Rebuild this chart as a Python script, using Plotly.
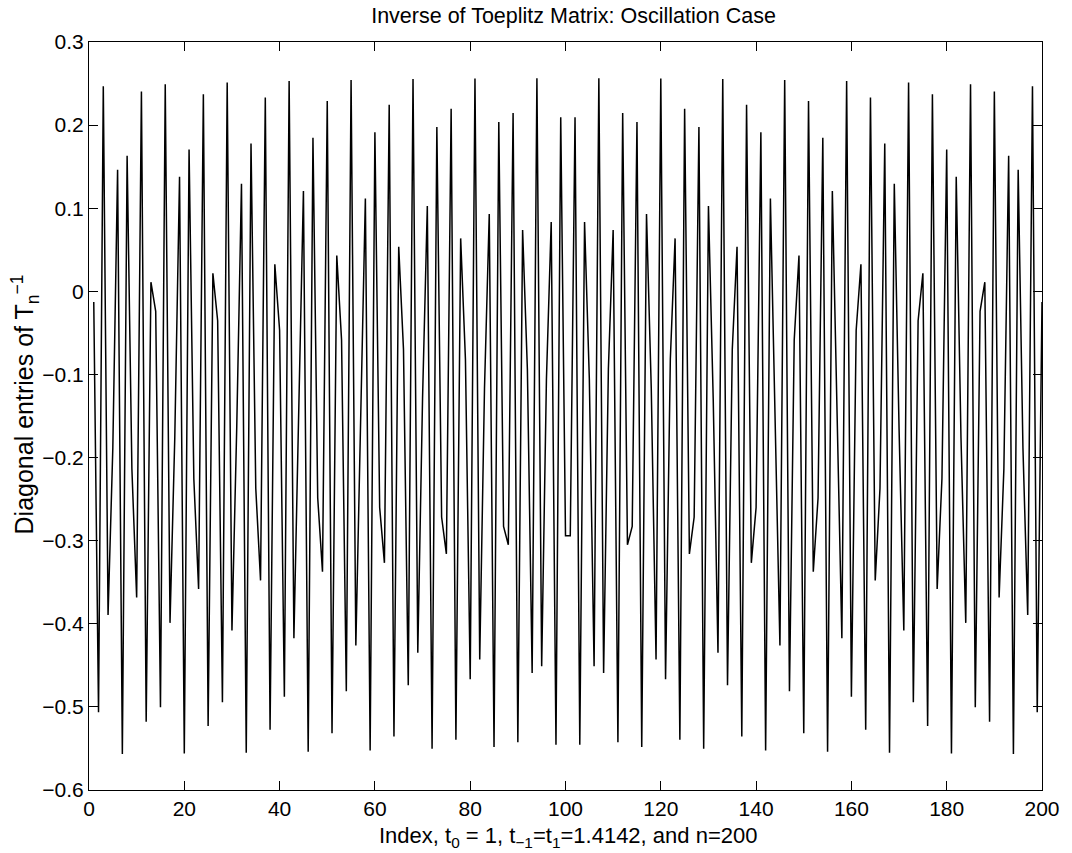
import plotly.graph_objects as go

index = list(range(1, 201))

diag_first_half = [
    -0.0128, -0.5064, 0.2468, -0.3894, -0.1883, 0.1463, -0.5567, 0.1632, -0.2136, -0.3683,
    0.2405, -0.5180, 0.0110, -0.0240, -0.5005, 0.2492, -0.3989, -0.1765, 0.1380, -0.5561,
    0.1706, -0.2254, -0.3581, 0.2370, -0.5229, 0.0218, -0.0354, -0.4943, 0.2513, -0.4082,
    -0.1646, 0.1295, -0.5552, 0.1778, -0.2370, -0.3478, 0.2332, -0.5275, 0.0325, -0.0468,
    -0.4878, 0.2530, -0.4173, -0.1527, 0.1207, -0.5540, 0.1847, -0.2486, -0.3374, 0.2291,
    -0.5318, 0.0431, -0.0584, -0.4811, 0.2544, -0.4261, -0.1408, 0.1118, -0.5524, 0.1913,
    -0.2601, -0.3267, 0.2246, -0.5357, 0.0535, -0.0700, -0.4740, 0.2555, -0.4347, -0.1289,
    0.1026, -0.5505, 0.1976, -0.2715, -0.3159, 0.2198, -0.5394, 0.0637, -0.0817, -0.4667,
    0.2562, -0.4431, -0.1171, 0.0931, -0.5482, 0.2036, -0.2828, -0.3050, 0.2147, -0.5426,
    0.0737, -0.0934, -0.4591, 0.2565, -0.4512, -0.1052, 0.0835, -0.5456, 0.2093, -0.2940,
]

diag_second_half = [
    -0.2940, 0.2093, -0.5456, 0.0835, -0.1052, -0.4512, 0.2565, -0.4591, -0.0934, 0.0737,
    -0.5426, 0.2147, -0.3050, -0.2828, 0.2036, -0.5482, 0.0931, -0.1171, -0.4431, 0.2562,
    -0.4667, -0.0817, 0.0637, -0.5394, 0.2198, -0.3159, -0.2715, 0.1976, -0.5505, 0.1026,
    -0.1289, -0.4347, 0.2555, -0.4740, -0.0700, 0.0535, -0.5357, 0.2246, -0.3267, -0.2601,
    0.1913, -0.5524, 0.1118, -0.1408, -0.4261, 0.2544, -0.4811, -0.0584, 0.0431, -0.5318,
    0.2291, -0.3374, -0.2486, 0.1847, -0.5540, 0.1207, -0.1527, -0.4173, 0.2530, -0.4878,
    -0.0468, 0.0325, -0.5275, 0.2332, -0.3478, -0.2370, 0.1778, -0.5552, 0.1295, -0.1646,
    -0.4082, 0.2513, -0.4943, -0.0354, 0.0218, -0.5229, 0.2370, -0.3581, -0.2254, 0.1706,
    -0.5561, 0.1380, -0.1765, -0.3989, 0.2492, -0.5005, -0.0240, 0.0110, -0.5180, 0.2405,
    -0.3683, -0.2136, 0.1632, -0.5567, 0.1463, -0.1883, -0.3894, 0.2468, -0.5064, -0.0128,
]

diag_values = diag_first_half + diag_second_half

x_ticks = [0, 20, 40, 60, 80, 100, 120, 140, 160, 180, 200]
y_ticks = [-0.6, -0.5, -0.4, -0.3, -0.2, -0.1, 0, 0.1, 0.2, 0.3]
y_tick_labels = ["\u22120.6", "\u22120.5", "\u22120.4", "\u22120.3", "\u22120.2",
                 "\u22120.1", "0", "0.1", "0.2", "0.3"]

title_text = "Inverse of Toeplitz Matrix: Oscillation Case"
x_label = "Index, t<sub>0</sub> = 1, t<sub>\u22121</sub>=t<sub>1</sub>=1.4142, and n=200"
y_label = "Diagonal entries of T<sub>n</sub><sup>\u22121</sup>"

FONT = "Liberation Sans, Arial, Helvetica, sans-serif"
FIG_W, FIG_H = 1072, 853

fig = go.Figure()
fig.add_trace(go.Scatter(
    x=index, y=diag_values, mode="lines",
    line=dict(color="black", width=1.5),
    showlegend=False, hoverinfo="x+y",
))

axis_common = dict(
    showline=True, linecolor="black", linewidth=1.2, mirror="allticks",
    ticks="inside", ticklen=9, tickwidth=1.2, tickcolor="black",
    showgrid=False, zeroline=False,
    tickfont=dict(family=FONT, size=21, color="black"),
)

fig.update_layout(
    width=FIG_W, height=FIG_H,
    margin=dict(l=89, r=21, t=42, b=63),
    paper_bgcolor="white", plot_bgcolor="white",
    font=dict(family=FONT, size=21, color="black"),
    title=dict(text=title_text, x=573.5 / FIG_W, xanchor="center",
               y=1 - 15.5 / FIG_H, yanchor="middle", yref="container",
               font=dict(family=FONT, size=21.5, color="black")),
    xaxis=dict(range=[0, 200], tickvals=x_ticks, **axis_common),
    yaxis=dict(range=[-0.6, 0.3], tickvals=y_ticks, ticktext=y_tick_labels, **axis_common),
    annotations=[
        dict(text=x_label, xref="paper", yref="paper", x=0.5026, y=-0.063,
             xanchor="center", yanchor="middle", showarrow=False,
             font=dict(family=FONT, size=22, color="black")),
        dict(text=y_label, xref="paper", yref="paper", x=-0.0675, y=0.515,
             xanchor="center", yanchor="middle", textangle=-90, showarrow=False,
             font=dict(family=FONT, size=25, color="black")),
    ],
)

fig.write_html(
    "out.html",
    config={"displayModeBar": False},
    post_script="document.body.style.margin='0px';"
                "document.documentElement.style.overflow='hidden';",
)
